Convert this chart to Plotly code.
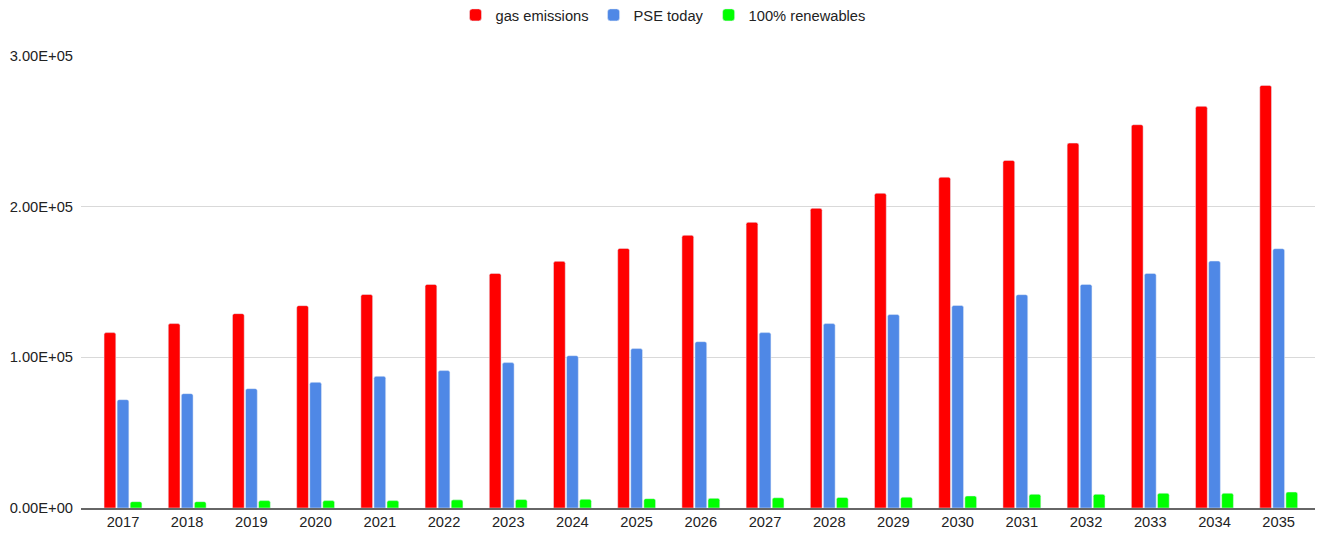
import plotly.graph_objects as go

years = [str(y) for y in range(2017, 2036)]
gas_emissions = [116400, 122400, 129000, 134300, 141700, 148400, 155700, 163700, 172300, 181000,
                 189600, 198900, 208900, 219600, 230700, 242200, 254400, 266600, 280500]
pse_today = [71900, 75900, 79200, 83400, 87400, 91200, 96500, 101100, 105800, 110400,
             116400, 122400, 128400, 134400, 141600, 148400, 155700, 163900, 172100]
renewables = [4200, 4200, 4900, 4900, 4900, 5400, 5600, 5800, 6200, 6400,
              6800, 7000, 7200, 8000, 9100, 9100, 9800, 9800, 10600]

y_ticks = [0, 100000, 200000, 300000]
y_labels = ["0.00E+00", "1.00E+05", "2.00E+05", "3.00E+05"]

fig = go.Figure()
fig.add_trace(go.Bar(x=years, y=gas_emissions, name='gas emissions', marker=dict(color='#ff0000', cornerradius=2)))
fig.add_trace(go.Bar(x=years, y=pse_today, name='PSE today', marker=dict(color='#4f88e6', cornerradius=2)))
fig.add_trace(go.Bar(x=years, y=renewables, name='100% renewables', marker=dict(color='#00ff00', cornerradius=2)))

# page body has an 8px margin, so the figure is a bit smaller than the window
fig.update_layout(
    width=1315, height=529,
    barmode='group', bargap=0.39, bargroupgap=0.1,
    margin=dict(l=73, r=0, t=48, b=29, autoexpand=False),
    plot_bgcolor='white', paper_bgcolor='white',
    font=dict(family='Liberation Sans, Arial, sans-serif', size=14.7, color='#222222'),
    legend=dict(orientation='h', x=0.4686, xanchor='center', y=1.09, yanchor='middle',
                font=dict(size=14.7, color='#222222'), itemwidth=30),
)
fig.update_xaxes(type='category', range=[-0.654, 18.69], showgrid=False, automargin=False,
                 showline=True, linecolor='#666666', linewidth=1.5, ticks='',
                 tickfont=dict(size=14.7, color='#222222'))
fig.update_yaxes(range=[0, 300000], tickvals=y_ticks, ticktext=y_labels, automargin=False,
                 showgrid=True, gridcolor='#d9d9d9', gridwidth=1, zeroline=False,
                 ticklabelstandoff=7, tickfont=dict(size=14.7, color='#222222'))

fig.write_html("out.html")
